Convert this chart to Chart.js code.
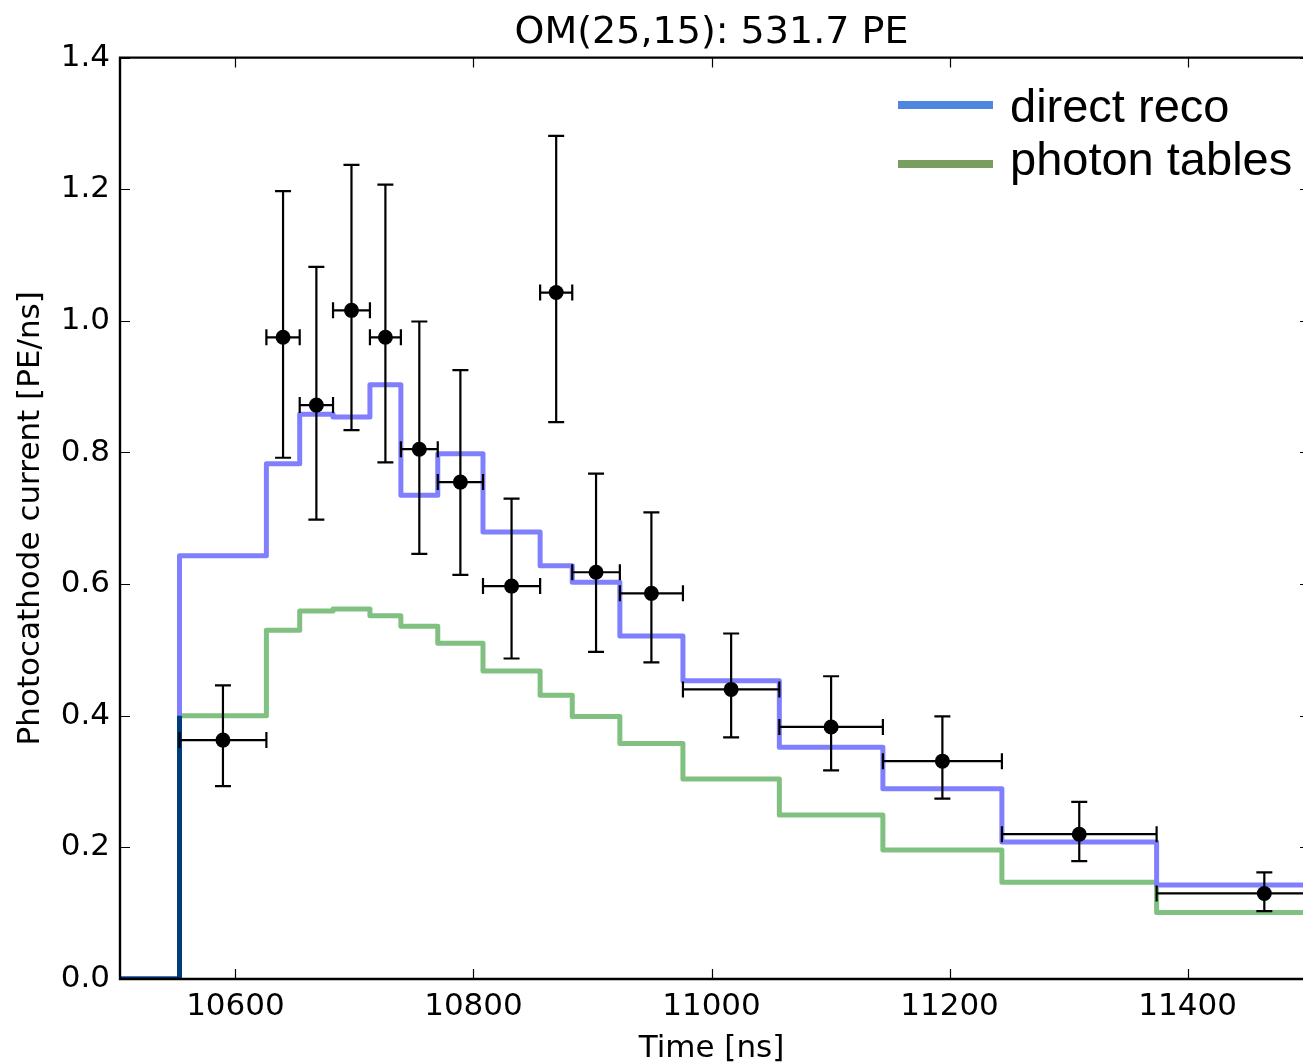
<!DOCTYPE html>
<html>
<head>
<meta charset="utf-8">
<title>OM(25,15): 531.7 PE</title>
<script src="https://cdn.jsdelivr.net/npm/chart.js@4.4.1/dist/chart.umd.min.js"></script>
<style>
  html, body { margin: 0; padding: 0; background: #fff; overflow: hidden; }
</style>
</head>
<body>
<canvas id="myChart" width="1303" height="1064"></canvas>
<script>
// time axis range [ns]
const xMin = 10503;
const xMax = 11497;

// bin edges of the waveform [ns]
const binEdges = [10553, 10626, 10654, 10682, 10713, 10739, 10770, 10808, 10856,
                  10883, 10923, 10976, 11057, 11144, 11244, 11374, 11555];

// expected photocathode current per bin [PE/ns]
const directReco = [0.643, 0.783, 0.858, 0.854, 0.903, 0.735, 0.798, 0.679,
                    0.628, 0.603, 0.521, 0.453, 0.352, 0.289, 0.208, 0.143];
const photonTables = [0.400, 0.530, 0.559, 0.562, 0.552, 0.536, 0.510, 0.468,
                      0.431, 0.399, 0.358, 0.304, 0.249, 0.196, 0.147, 0.101];

// measured current per bin, with upper/lower error bounds
const measured = [0.363, 0.975, 0.872, 1.016, 0.975, 0.805, 0.755, 0.597,
                  1.043, 0.618, 0.586, 0.440, 0.383, 0.331, 0.220, 0.130];
const errUpper = [0.446, 1.197, 1.082, 1.237, 1.207, 0.999, 0.925, 0.730,
                  1.281, 0.768, 0.709, 0.525, 0.460, 0.399, 0.269, 0.162];
const errLower = [0.293, 0.792, 0.698, 0.834, 0.785, 0.646, 0.614, 0.487,
                  0.846, 0.497, 0.481, 0.367, 0.317, 0.274, 0.179, 0.103];

const xTicks = [10600, 10800, 11000, 11200, 11400];
const yTicks = [0.0, 0.2, 0.4, 0.6, 0.8, 1.0, 1.2, 1.4];

const legendItems = [
    { text: 'direct reco', color: '#4f87e0' },
    { text: 'photon tables', color: '#7a9e5e' }
];

// histogram outline: zero until the first edge, then one level per bin
function stepPoints(values) {
    const pts = [{ x: xMin, y: 0 }];
    values.forEach((v, i) => pts.push({ x: binEdges[i], y: v }));
    pts.push({ x: binEdges[binEdges.length - 1], y: values[values.length - 1] });
    return pts;
}

const binCenters = measured.map((v, i) => (binEdges[i] + binEdges[i + 1]) / 2);

// error bars drawn just under the data markers
const errorBars = {
    id: 'errorBars',
    beforeDatasetDraw(chart, args) {
        if (chart.data.datasets[args.index].label !== 'data') return;
        const { ctx, scales: { x, y } } = chart;
        const cap = 8;
        ctx.save();
        ctx.strokeStyle = '#000';
        ctx.lineWidth = 2.2;
        measured.forEach((v, i) => {
            const px = x.getPixelForValue(binCenters[i]);
            const py = y.getPixelForValue(v);
            const x0 = x.getPixelForValue(binEdges[i]);
            const x1 = x.getPixelForValue(binEdges[i + 1]);
            const yTop = y.getPixelForValue(errUpper[i]);
            const yBot = y.getPixelForValue(errLower[i]);
            ctx.beginPath();
            ctx.moveTo(px, yTop); ctx.lineTo(px, yBot);
            ctx.moveTo(x0, py); ctx.lineTo(x1, py);
            ctx.moveTo(px - cap, yTop); ctx.lineTo(px + cap, yTop);
            ctx.moveTo(px - cap, yBot); ctx.lineTo(px + cap, yBot);
            ctx.moveTo(x0, py - cap); ctx.lineTo(x0, py + cap);
            ctx.moveTo(x1, py - cap); ctx.lineTo(x1, py + cap);
            ctx.stroke();
        });
        ctx.restore();
    }
};

// axes box with inward ticks on all sides
const frame = {
    id: 'frame',
    afterDatasetsDraw(chart) {
        const { ctx, chartArea: a, scales: { x, y } } = chart;
        const tick = 10;
        ctx.save();
        ctx.strokeStyle = '#000';
        ctx.lineWidth = 1.2;
        ctx.beginPath();
        xTicks.forEach(t => {
            const px = Math.round(x.getPixelForValue(t)) + 0.5;
            ctx.moveTo(px, a.bottom); ctx.lineTo(px, a.bottom - tick);
            ctx.moveTo(px, a.top); ctx.lineTo(px, a.top + tick);
        });
        yTicks.forEach(t => {
            const py = Math.round(y.getPixelForValue(t)) + 0.5;
            ctx.moveTo(a.left, py); ctx.lineTo(a.left + tick, py);
            ctx.moveTo(a.right, py); ctx.lineTo(a.right - 3, py);
        });
        ctx.stroke();
        ctx.lineWidth = 2.4;
        ctx.beginPath();
        ctx.moveTo(a.right + 5, a.top);
        ctx.lineTo(a.left, a.top);
        ctx.lineTo(a.left, a.bottom);
        ctx.lineTo(a.right + 5, a.bottom);
        ctx.stroke();
        ctx.restore();
    }
};

// legend in the upper right corner
const legendBox = {
    id: 'legendBox',
    afterDraw(chart) {
        const { ctx } = chart;
        ctx.save();
        ctx.font = '47px "Liberation Sans", sans-serif';
        ctx.textBaseline = 'alphabetic';
        ctx.fillStyle = '#000';
        legendItems.forEach((item, i) => {
            const ly = 105 + i * 59;
            ctx.strokeStyle = item.color;
            ctx.lineWidth = 8;
            ctx.beginPath();
            ctx.moveTo(898, ly);
            ctx.lineTo(993, ly);
            ctx.stroke();
            ctx.fillText(item.text, 1010, 122 + i * 53);
        });
        ctx.restore();
    }
};

Chart.defaults.font.family = '"DejaVu Sans", sans-serif';
Chart.defaults.color = '#000';

const ctx = document.getElementById('myChart');
const waveformChart = new Chart(ctx, {
    type: 'scatter',
    data: {
        datasets: [
            {
                label: 'data',
                data: measured.map((v, i) => ({ x: binCenters[i], y: v })),
                pointRadius: 7.5,
                pointBackgroundColor: '#000',
                pointBorderWidth: 0,
                showLine: false,
                order: 0
            },
            {
                label: 'onset',
                data: [{ x: xMin, y: 0 }, { x: binEdges[0], y: 0 }, { x: binEdges[0], y: photonTables[0] }],
                showLine: true,
                borderColor: '#003b7c',
                borderWidth: 5,
                pointRadius: 0,
                clip: 0,
                order: 1
            },
            {
                label: 'direct reco',
                data: stepPoints(directReco),
                showLine: true,
                stepped: 'before',
                borderColor: '#8080ff',
                borderWidth: 5,
                borderJoinStyle: 'round',
                pointRadius: 0,
                clip: 0,
                order: 2
            },
            {
                label: 'photon tables',
                data: stepPoints(photonTables),
                showLine: true,
                stepped: 'before',
                borderColor: '#80c080',
                borderWidth: 5,
                borderJoinStyle: 'round',
                pointRadius: 0,
                clip: 0,
                order: 3
            }
        ]
    },
    options: {
        responsive: false,
        animation: false,
        layout: { padding: 0, autoPadding: false },
        scales: {
            x: {
                type: 'linear',
                min: xMin,
                max: xMax,
                afterBuildTicks: s => { s.ticks = xTicks.map(v => ({ value: v })); },
                afterFit: s => { s.height = 85; s.paddingLeft = 0; s.paddingRight = 0; },
                grid: { display: false, drawTicks: false },
                border: { display: false },
                ticks: {
                    font: { size: 31 },
                    padding: 9,
                    maxRotation: 0,
                    callback: v => String(v)
                },
                title: {
                    display: true,
                    text: 'Time [ns]',
                    font: { size: 31, lineHeight: 1.0 },
                    padding: 0
                }
            },
            y: {
                min: 0,
                max: 1.4,
                afterBuildTicks: s => { s.ticks = yTicks.map(v => ({ value: v })); },
                afterFit: s => { s.width = 120; },
                grid: { display: false, drawTicks: false },
                border: { display: false },
                ticks: {
                    font: { size: 31 },
                    padding: 10,
                    callback: v => v.toFixed(1)
                },
                title: {
                    display: true,
                    text: 'Photocathode current [PE/ns]',
                    font: { size: 31 },
                    padding: { top: 12, bottom: 0 }
                }
            }
        },
        plugins: {
            title: {
                display: true,
                fullSize: false,
                text: 'OM(25,15): 531.7 PE',
                font: { size: 38, weight: 'normal' },
                color: '#000',
                padding: { top: 10, bottom: 2 }
            },
            legend: { display: false },
            tooltip: { enabled: false }
        }
    },
    plugins: [errorBars, frame, legendBox]
});
</script>
</body>
</html>
